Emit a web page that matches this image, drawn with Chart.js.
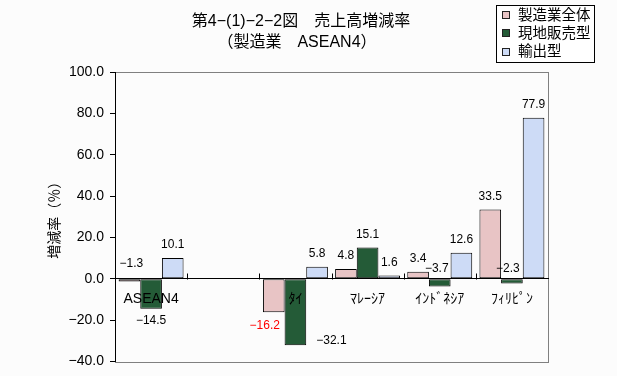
<!DOCTYPE html>
<html><head><meta charset="utf-8">
<script src="https://cdn.jsdelivr.net/npm/chart.js@4.4.0/dist/chart.umd.min.js"></script>
<style>html,body{margin:0;padding:0;background:#fcfcfc;overflow:hidden}</style>
</head><body>
<canvas id="c" width="617" height="376"></canvas>
<script>
const categories = ['ASEAN4', '', 'ﾀｲ', 'ﾏﾚｰｼｱ', 'ｲﾝﾄﾞﾈｼｱ', 'ﾌｨﾘﾋﾟﾝ'];
const seriesNames = ['製造業全体', '現地販売型', '輸出型'];
const totalMfg   = [-1.3, null, -16.2, 4.8, 3.4, 33.5];
const localSales = [-14.5, null, -32.1, 15.1, -3.7, -2.3];
const exportType = [10.1, null, 5.8, 1.6, 12.6, 77.9];
const yMin = -40, yMax = 100, yStep = 20;
const titleLines = ['第4−(1)−2−2図　売上高増減率', '（製造業　ASEAN4）'];
const yTitle = '増減率（％）';

const FAM = "'Liberation Sans', 'Noto Sans CJK JP', sans-serif";
const colors = ['#e8c4c5', '#245b37', '#cddbf6'];
const fmt = v => (v < 0 ? '−' : '') + Math.abs(v).toFixed(1);

// label placement tweaks (styling only)
const labelNudge = {
  '0-0': {dx: 2, fromZero: -15},
  '1-0': {dx: 0, fromEnd: 12},
  '0-2': {dx: -9, fromEnd: 13, color: '#ff0000'},
  '1-2': {dx: 36, fromEnd: -5},
  '1-4': {dx: -3, fromZero: -10},
  '1-5': {dx: -4, fromZero: -10}
};

const framePlugin = {
  id: 'frame',
  beforeDraw(chart) {
    const {ctx, chartArea: a} = chart;
    ctx.save();
    ctx.fillStyle = '#fcfcfc';
    ctx.fillRect(0, 0, chart.width, chart.height);
    ctx.strokeStyle = '#808080';
    ctx.lineWidth = 1;
    ctx.strokeRect(Math.round(a.left) + 0.5, Math.round(a.top) + 0.5, Math.round(a.right - a.left), Math.round(a.bottom - a.top));
    ctx.restore();
  },
  afterDatasetsDraw(chart) {
    const {ctx} = chart;
    const xs = chart.scales.x, ys = chart.scales.y;
    const zy = Math.round(ys.getPixelForValue(0)) + 0.5;
    ctx.save();
    ctx.strokeStyle = '#000';
    ctx.lineWidth = 1;
    for (let i = 1; i < categories.length; i++) {
      const x = Math.round((xs.getPixelForValue(i - 1) + xs.getPixelForValue(i)) / 2) + 0.5;
      ctx.beginPath(); ctx.moveTo(x, zy - 6); ctx.lineTo(x, zy); ctx.stroke();
    }
    // value labels
    ctx.font = '12px ' + FAM;
    ctx.textAlign = 'center';
    ctx.textBaseline = 'middle';
    chart.data.datasets.forEach((ds, di) => {
      const meta = chart.getDatasetMeta(di);
      meta.data.forEach((bar, i) => {
        const v = ds.data[i];
        if (v === null || v === undefined) return;
        const n = labelNudge[di + '-' + i];
        let x = bar.x, y;
        ctx.fillStyle = '#000';
        if (n) {
          x += n.dx;
          if (n.fromZero !== undefined) y = ys.getPixelForValue(0) + n.fromZero;
          else y = bar.y + n.fromEnd;
          if (n.color) ctx.fillStyle = n.color;
        } else {
          y = v >= 0 ? bar.y - 13 : bar.y + 13;
        }
        ctx.fillText(fmt(v), x, y);
      });
    });
    ctx.restore();
  },
  afterDraw(chart) {
    const {ctx} = chart;
    ctx.save();
    // title
    ctx.fillStyle = '#000';
    ctx.textAlign = 'center';
    ctx.textBaseline = 'middle';
    ctx.font = '16px ' + FAM;
    ctx.fillText(titleLines[0], 301, 22);
    ctx.font = '16px ' + FAM;
    ctx.fillText(titleLines[1], 297, 43);
    // legend
    ctx.fillStyle = '#ffffff';
    ctx.fillRect(496.5, 5.5, 98, 57);
    ctx.strokeStyle = '#000';
    ctx.lineWidth = 1;
    ctx.strokeRect(496.5, 5.5, 98, 57);
    ctx.textAlign = 'left';
    ctx.font = '14.5px ' + FAM;
    chart.data.datasets.forEach((ds, i) => {
      const cy = 14.5 + i * 18.4;
      ctx.fillStyle = ds.backgroundColor;
      ctx.fillRect(502.5, Math.round(cy - 3.5) + 0.5, 7, 7);
      ctx.strokeStyle = '#222';
      ctx.strokeRect(502.5, Math.round(cy - 3.5) + 0.5, 7, 7);
      ctx.fillStyle = '#000';
      ctx.fillText(ds.label, 518, cy + 1);
    });
    ctx.restore();
  }
};

new Chart(document.getElementById('c'), {
  type: 'bar',
  data: {
    labels: categories,
    datasets: [
      {label: seriesNames[0], data: totalMfg, backgroundColor: colors[0]},
      {label: seriesNames[1], data: localSales, backgroundColor: colors[1]},
      {label: seriesNames[2], data: exportType, backgroundColor: colors[2]}
    ].map(d => Object.assign(d, {borderColor: '#000', borderWidth: 1, borderSkipped: false, categoryPercentage: 0.9, barPercentage: 1.0}))
  },
  options: {
    responsive: false,
    animation: false,
    devicePixelRatio: 1,
    layout: {padding: {left: 47, right: 69, top: 72, bottom: 14}},
    plugins: {legend: {display: false}, title: {display: false}, tooltip: {enabled: false}},
    scales: {
      x: {
        position: {y: 0},
        offset: true,
        grid: {display: false, drawTicks: false},
        border: {display: true, color: '#000', width: 1, z: 1},
        ticks: {z: 1, padding: 12, color: '#000', font: {size: 14, family: FAM}, maxRotation: 0, autoSkip: false}
      },
      y: {
        min: yMin, max: yMax,
        afterFit(s) { s.width = 68; },
        ticks: {stepSize: yStep, padding: 6, color: '#000', font: {size: 14, family: FAM}, callback: v => fmt(v)},
        grid: {drawOnChartArea: false, drawTicks: true, tickLength: 5, color: '#000'},
        border: {display: true, color: '#000', width: 1},
        title: {display: true, text: yTitle, color: '#000', font: {size: 14, family: FAM}, padding: {top: 0, bottom: 0}}
      }
    }
  },
  plugins: [framePlugin]
});
</script>
</body></html>
